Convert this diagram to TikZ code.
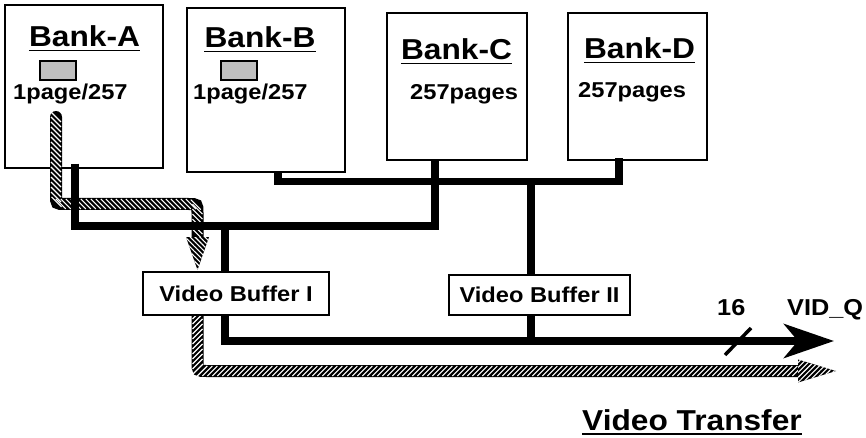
\documentclass[tikz,border=0pt]{standalone}
\usepackage{fontspec}
\setmainfont[FakeStretch=1.1]{Liberation Sans}
\usetikzlibrary{arrows.meta,patterns.meta,decorations.markings,calc}
\begin{document}
\begin{tikzpicture}[x=1pt,y=-1pt,
  box/.style={draw=black, line width=1.5pt, fill=white, inner sep=0pt, rectangle},
  title/.style={inner sep=0pt, anchor=base, font=\fontsize{28.8pt}{34pt}\selectfont\bfseries},
  sub/.style={inner sep=0pt, anchor=base west, font=\fontsize{21.5pt}{25pt}\selectfont\bfseries},
  sublab/.style={inner sep=0pt, anchor=base west, font=\fontsize{23pt}{27pt}\selectfont\bfseries},
  uline/.style={line width=1.5pt},
  bus/.style={line width=7.5pt, line cap=butt, line join=miter},
  hatch/.style={line width=12pt, line cap=round, draw=black, postaction={decorate},
    decoration={markings, mark=between positions 0 and 1 step 5pt with
      {\pgftransformresetnontranslations
       \draw[white, line width=1.1pt, line cap=butt] (-5pt,{#1*5pt}) -- (5pt,{-#1*5pt});}}},
  hatchhead/.style={fill=black, postaction={pattern={Lines[angle=#1,distance=3.5pt,line width=1.1pt]}, pattern color=white}}
]
\useasboundingbox (0,0) rectangle (866,438);

% banks
\node[box, minimum width=158pt, minimum height=163pt] (A) at (84,86.5) {};
\node[box, minimum width=158pt, minimum height=164pt] (B) at (266,90) {};
\node[box, minimum width=140pt, minimum height=147pt] (C) at (457,86.5) {};
\node[box, minimum width=139pt, minimum height=147pt] (D) at (637.5,86.5) {};

% hatched video transfer paths
\coordinate (h0) at (56,117);
\coordinate (h1) at (197.5,238);
\draw[hatch=1] (h0) -- (56,195) .. controls (56,204) .. (65,204) -- (188.5,204) .. controls (197.5,204) .. (197.5,213) -- (h1);
\path[hatchhead=-45] (186,237) -- (209,237) -- (197.5,270) -- cycle;

\coordinate (h2) at (197.5,314);
\coordinate (h3) at (800,371);
\draw[hatch=-1] (h2) -- (197.5,362) .. controls (197.5,371) .. (206.5,371) -- (h3);
\path[hatchhead=45] (798,359.5) -- (836,371) -- (798,382.5) -- cycle;

% bank labels
\node[title] (tA) at (84.5,47) {Bank-A};
\node[title] (tB) at (260,48) {Bank-B};
\node[title] (tC) at (456.5,60) {Bank-C};
\node[title] (tD) at (639.5,59) {Bank-D};
\foreach \t in {tA,tB,tC,tD}
  \draw[uline] ($(\t.base west)+(0,3.5)$) -- ($(\t.base east)+(0,3.5)$);

\node[box, fill=black!25, minimum width=36pt, minimum height=19pt] (gA) at (58,70.5) {};
\node[box, fill=black!25, minimum width=36pt, minimum height=19pt] (gB) at (239,70.5) {};

\node[sub] (pA) at (13,100) {1page/257};
\node[sub] (pB) at (193,100) {1page/257};
\node[sub] (pC) at (410,100) {257pages};
\node[sub] (pD) at (578,98) {257pages};

% video buffers
\node[box, minimum width=186pt, minimum height=43pt, font=\fontsize{21.5pt}{25pt}\selectfont\bfseries] (V1) at (236,293.5) {Video Buffer I};
\node[box, minimum width=181pt, minimum height=40pt, font=\fontsize{21.5pt}{25pt}\selectfont\bfseries] (V2) at (539.5,295) {Video Buffer II};

% buses
\coordinate (jA) at (75,226);
\coordinate (jC) at (435,226);
\coordinate (jB) at (278,181.5);
\coordinate (jD) at (619,181.5);
\coordinate (j1) at (225,226);
\coordinate (j2) at (531,181.5);
\coordinate (o1) at (225,341);
\coordinate (o2) at (531,341);
\coordinate (out) at (834,341);

\draw[bus] ($(A.south -| jA)+(0,-5)$) -- (jA) -- (jC) -- ($(C.south -| jC)+(0,-1)$);
\draw[bus] (B.south -| jB) -- (jB) -- (jD) -- ($(D.south -| jD)+(0,-3)$);
\draw[bus] (j2) -- (V2.north -| j2);
\draw[bus] (j1) -- (V1.north -| j1);
\draw[bus] (V2.south -| o2) -- (o2);
\draw[bus, -{Stealth[length=50pt,width=34pt,inset=14pt]}] (V1.south -| o1) -- (o1) -- (out);

% bus width mark
\coordinate (s1) at (725,355);
\coordinate (s2) at (751,328);
\draw[line width=3.5pt] (s1) -- (s2);
\node[sublab] (n16) at (717,315) {16};
\node[sublab] (vq) at (787,315) {VID\_Q};

\node[title, anchor=base west] (vt) at (582,430) {Video Transfer};
\draw[uline] ($(vt.base west)+(0,4)$) -- ($(vt.base east)+(0,4)$);
\end{tikzpicture}
\end{document}
